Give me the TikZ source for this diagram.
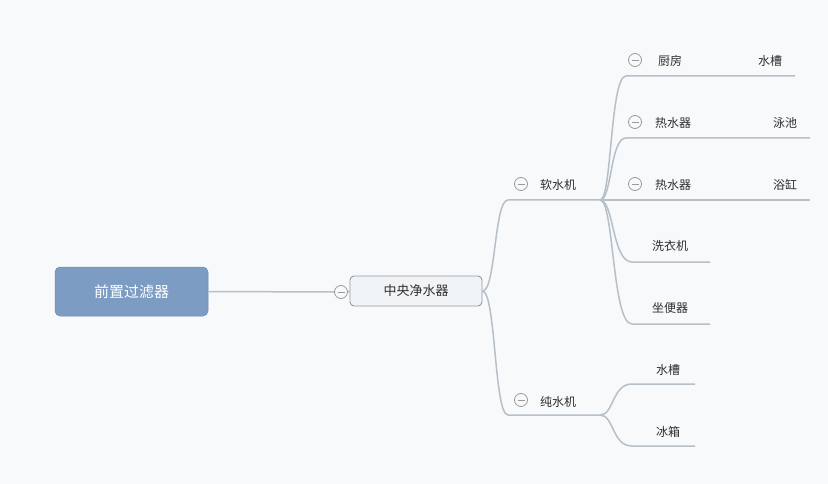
\documentclass[tikz,border=0pt]{standalone}
\usepackage{fontspec}
\setmainfont{Noto Sans CJK SC}
\definecolor{bgc}{HTML}{F8F9FB}
\definecolor{linec}{HTML}{B5C0C9}
\definecolor{rootc}{HTML}{7C9CC4}
\definecolor{txtc}{HTML}{2E2E2E}
\definecolor{minc}{HTML}{999999}
\definecolor{mainfill}{HTML}{F1F4F6}
\begin{document}
\begin{tikzpicture}[x=1pt,y=-1pt,
  conn/.style={draw=linec,line width=1.5pt},
  lbl/.style={text=txtc,font=\fontsize{12}{13}\selectfont,inner sep=0pt,anchor=center},
  tog/.style={circle,draw=minc,line width=0.8pt,minimum size=13pt,inner sep=0pt,fill=bgc,
    path picture={\draw[minc,line width=0.8pt] ([xshift=-3.5pt]path picture bounding box.center) -- ([xshift=3.5pt]path picture bounding box.center);}},
  rootbox/.style={rounded corners=5pt,fill=rootc,draw=rootc!90!black,line width=0.5pt,text=white,
    font=\fontsize{15}{16}\selectfont,minimum width=153pt,minimum height=49pt,inner sep=0pt},
  mainbox/.style={rounded corners=4pt,fill=mainfill,draw=linec!80!black,line width=0.9pt,text=txtc,
    font=\fontsize{13}{14}\selectfont,minimum width=132pt,minimum height=30pt,inner sep=0pt}
]
\fill[bgc] (0,0) rectangle (828,484);
\useasboundingbox (0,0) rectangle (828,484);

% root and main
\node[rootbox] (root) at (131.5,291.5) {前置过滤器};
\node[mainbox] (main) at (416,291) {中央净水器};
\node[tog] (tmain) at (341,292) {};
\draw[conn] (root.east) -- (tmain.west);
\draw[conn] (tmain.east) -- (main.west);

% level 2
\coordinate (a1) at (508,200); \coordinate (a2) at (600,200);
\coordinate (b1) at (508,415); \coordinate (b2) at (600,415);
\node[tog] (ta) at (521,184) {};
\node[lbl] (soft) at (558,185) {软水机};
\node[tog] (tb) at (521,400) {};
\node[lbl] (pure) at (558,402) {纯水机};
\draw[conn] (main.east) .. controls (496,291) and (494,200) .. (a1) -- (a2);
\draw[conn] (main.east) .. controls (496,292) and (494,415) .. (b1) -- (b2);

% level 3 under 软水机
\coordinate (c1) at (626,76);  \coordinate (c2) at (795,76);
\coordinate (d1) at (626,138); \coordinate (d2) at (810,138);
\coordinate (e2) at (810,200);
\coordinate (f1) at (632,262); \coordinate (f2) at (710,262);
\coordinate (g1) at (632,324); \coordinate (g2) at (710,324);
\draw[conn] (a2) .. controls (612,200) and (610,76) .. (c1) -- (c2);
\draw[conn] (a2) .. controls (612,200) and (610,138) .. (d1) -- (d2);
\draw[conn] (a2) -- (e2);
\draw[conn] (a2) .. controls (614,200) and (612,262) .. (f1) -- (f2);
\draw[conn] (a2) .. controls (614,200) and (612,324) .. (g1) -- (g2);

\node[tog] (tc) at (635,60) {};
\node[lbl] (kit) at (670,61) {厨房};
\node[lbl] (sink1) at (770,61) {水槽};
\node[tog] (td) at (635,122) {};
\node[lbl] (heat1) at (673,123) {热水器};
\node[lbl] (pool) at (785,123) {泳池};
\node[tog] (te) at (635,184) {};
\node[lbl] (heat2) at (673,185) {热水器};
\node[lbl] (tub) at (785,185) {浴缸};
\node[lbl] (wash) at (670,246) {洗衣机};
\node[lbl] (toil) at (670,308) {坐便器};

% level 3 under 纯水机
\coordinate (h1) at (632,384); \coordinate (h2) at (695,384);
\coordinate (i1) at (632,446); \coordinate (i2) at (695,446);
\draw[conn] (b2) .. controls (614,415) and (612,384) .. (h1) -- (h2);
\draw[conn] (b2) .. controls (614,415) and (612,446) .. (i1) -- (i2);
\node[lbl] (sink2) at (668,370) {水槽};
\node[lbl] (fridge) at (668,432) {冰箱};
\end{tikzpicture}
\end{document}
